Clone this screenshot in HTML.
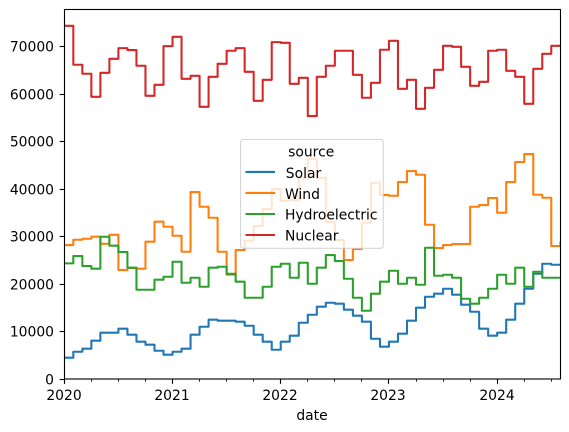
<!DOCTYPE html>
<html lang="en">
<head>
<meta charset="utf-8">
<title>Energy by source</title>
<style>
html,body{margin:0;padding:0;background:#fff;}
body{width:569px;height:432px;overflow:hidden;}
svg{display:block;}
text{font-family:"DejaVu Sans","Liberation Sans",sans-serif;font-size:13.89px;fill:#000;}
</style>
</head>
<body>
<svg id="chart" xmlns="http://www.w3.org/2000/svg" width="569" height="432" viewBox="0 0 569 432">
  <defs><clipPath id="plot-clip"><rect x="64.5" y="9.5" width="496" height="369.5"/></clipPath></defs>
  <g id="series" clip-path="url(#plot-clip)"></g>
  <g id="legend">
    <rect x="240.5" y="139.5" width="142.8" height="108.8" rx="2.8" ry="2.8" fill="#fff" fill-opacity="0.8" stroke="#ccc" stroke-opacity="0.8" stroke-width="1.11"/>
    <text x="311.2" y="156.7" text-anchor="middle">source</text>
    <line x1="245.5" x2="275" y1="171.9" y2="171.9" stroke="#1f77b4" stroke-width="2.08"/>
    <text x="285.8" y="178">Solar</text>
    <line x1="245.5" x2="275" y1="192.9" y2="192.9" stroke="#ff7f0e" stroke-width="2.08"/>
    <text x="285" y="199">Wind</text>
    <line x1="245.5" x2="275" y1="214" y2="214" stroke="#2ca02c" stroke-width="2.08"/>
    <text x="285" y="219.5">Hydroelectric</text>
    <line x1="245.5" x2="275" y1="235" y2="235" stroke="#d62728" stroke-width="2.08"/>
    <text x="285" y="240.5">Nuclear</text>
  </g>
  <g id="axes"></g>
  <text x="312" y="420" text-anchor="middle">date</text>
</svg>
<script>
const dates = [
"2020-01","2020-02","2020-03","2020-04","2020-05","2020-06","2020-07","2020-08","2020-09","2020-10","2020-11","2020-12",
"2021-01","2021-02","2021-03","2021-04","2021-05","2021-06","2021-07","2021-08","2021-09","2021-10","2021-11","2021-12",
"2022-01","2022-02","2022-03","2022-04","2022-05","2022-06","2022-07","2022-08","2022-09","2022-10","2022-11","2022-12",
"2023-01","2023-02","2023-03","2023-04","2023-05","2023-06","2023-07","2023-08","2023-09","2023-10","2023-11","2023-12",
"2024-01","2024-02","2024-03","2024-04","2024-05","2024-06","2024-07","2024-08"];
const solar = [4490,5750,6390,8070,9760,9760,10600,9340,7860,7230,5960,5120,5750,6390,9340,11020,12500,12290,12290,12080,11230,9340,7860,6170,7860,9130,11860,13550,15240,16080,15870,14610,13340,12080,8490,6810,7860,9550,12290,15030,17340,17980,19030,17770,15660,14180,10600,9130,9760,12500,15870,19030,22190,24300,24090,24000];
const wind = [28240,29360,29570,30000,28500,30400,22970,23400,23250,28950,33160,32100,30200,26830,39410,36310,34000,26830,21980,27190,29150,32250,35830,40040,37580,37720,42420,46370,42420,33100,29300,25080,27400,32940,41370,38780,38630,41520,43840,43060,32520,27610,28240,28450,28450,36310,36670,38150,35050,41520,45730,47420,38840,38210,28030,28950];
const hydro = [24380,25920,23810,23250,29990,28100,26760,23460,18820,18820,20930,21560,24720,20290,21350,19450,23460,23670,22190,20510,17130,17130,19450,23670,24300,21350,24510,20080,23460,26130,24870,21140,17130,14390,17980,20510,22820,20080,21350,19870,27670,21770,21980,21350,16920,15870,17130,19030,21980,20080,23460,19450,22610,21350,21350,21350];
const nuclear = [74460,66250,64350,59500,64560,67510,69760,69340,66040,59710,62030,70180,72140,63290,63920,57390,63710,66450,69200,69760,64770,58650,63080,71020,70880,62240,63500,55430,63710,66040,69200,69200,64130,59290,62450,69410,71300,61180,63080,56970,61390,65180,70250,70040,65810,61810,62660,69200,69410,64980,63710,58020,65400,68560,70250,70000];
const yTickValues = [0,10000,20000,30000,40000,50000,60000,70000];
const xTickYears = ["2020","2021","2022","2023","2024"];

const NS = "http://www.w3.org/2000/svg";
const plot = {left:64.5, right:560.5, top:9.5, bottom:379};
const yMax = 77900;
const lastIndex = dates.length - 1;
function xScale(i){ return plot.left - 0.2 + (plot.right - plot.left) * i / lastIndex; }
function yScale(v){ return plot.bottom - (plot.bottom - plot.top) * v / yMax; }
function make(tag, attrs){
  const el = document.createElementNS(NS, tag);
  for (const k in attrs) el.setAttribute(k, attrs[k]);
  return el;
}
function stepPath(values){
  let d = "M" + xScale(0).toFixed(2) + " " + yScale(values[0]).toFixed(2);
  for (let i = 1; i < values.length; i++){
    d += "H" + xScale(i).toFixed(2) + "V" + yScale(values[i]).toFixed(2);
  }
  return d;
}
const seriesGroup = document.getElementById("series");
const axesGroup = document.getElementById("axes");

const solarLine = make("path", {d:stepPath(solar), fill:"none", stroke:"#1f77b4", "stroke-width":2.08, "stroke-linejoin":"round"});


seriesGroup.appendChild(solarLine);

const windLine = make("path", {d:stepPath(wind), fill:"none", stroke:"#ff7f0e", "stroke-width":2.08, "stroke-linejoin":"round"});


seriesGroup.appendChild(windLine);

const hydroLine = make("path", {d:stepPath(hydro), fill:"none", stroke:"#2ca02c", "stroke-width":2.08, "stroke-linejoin":"round"});


seriesGroup.appendChild(hydroLine);

const nuclearLine = make("path", {d:stepPath(nuclear), fill:"none", stroke:"#d62728", "stroke-width":2.08, "stroke-linejoin":"round"});


seriesGroup.appendChild(nuclearLine);

/* y axis */
yTickValues.forEach(function(v){
  const y = Math.round(yScale(v) - 0.5) + 0.5;
  const tick = make("line", {x1:plot.left - 4.86, x2:plot.left, y1:y, y2:y, stroke:"#000", "stroke-width":1.11});
  
  
  axesGroup.appendChild(tick);
  const label = make("text", {x:plot.left - 10.5, y:y + 5.1, "text-anchor":"end"});
  label.textContent = String(v);
  
  
  axesGroup.appendChild(label);
});

/* x axis */
dates.forEach(function(dateStr, i){
  const month = +dateStr.slice(5);
  if ((month - 1) % 3 !== 0) return;
  const x = Math.round(xScale(i) - 0.5) + 0.5;
  const isMajor = month === 1;
  const tick = make("line", {x1:x, x2:x, y1:plot.bottom, y2:plot.bottom + (isMajor ? 4.86 : 2.78), stroke:"#000", "stroke-width":isMajor ? 1.11 : 0.83});
  
  
  axesGroup.appendChild(tick);
  if (isMajor && xTickYears.indexOf(dateStr.slice(0,4)) >= 0){
    const label = make("text", {x:x - 0.5, y:400, "text-anchor":"middle"});
    label.textContent = dateStr.slice(0,4);
    
    
    axesGroup.appendChild(label);
  }
});

/* spines */
const frame = make("rect", {x:plot.left, y:plot.top, width:plot.right - plot.left, height:plot.bottom - plot.top, fill:"none", stroke:"#000", "stroke-width":1.11});


axesGroup.appendChild(frame);
</script>
</body>
</html>
